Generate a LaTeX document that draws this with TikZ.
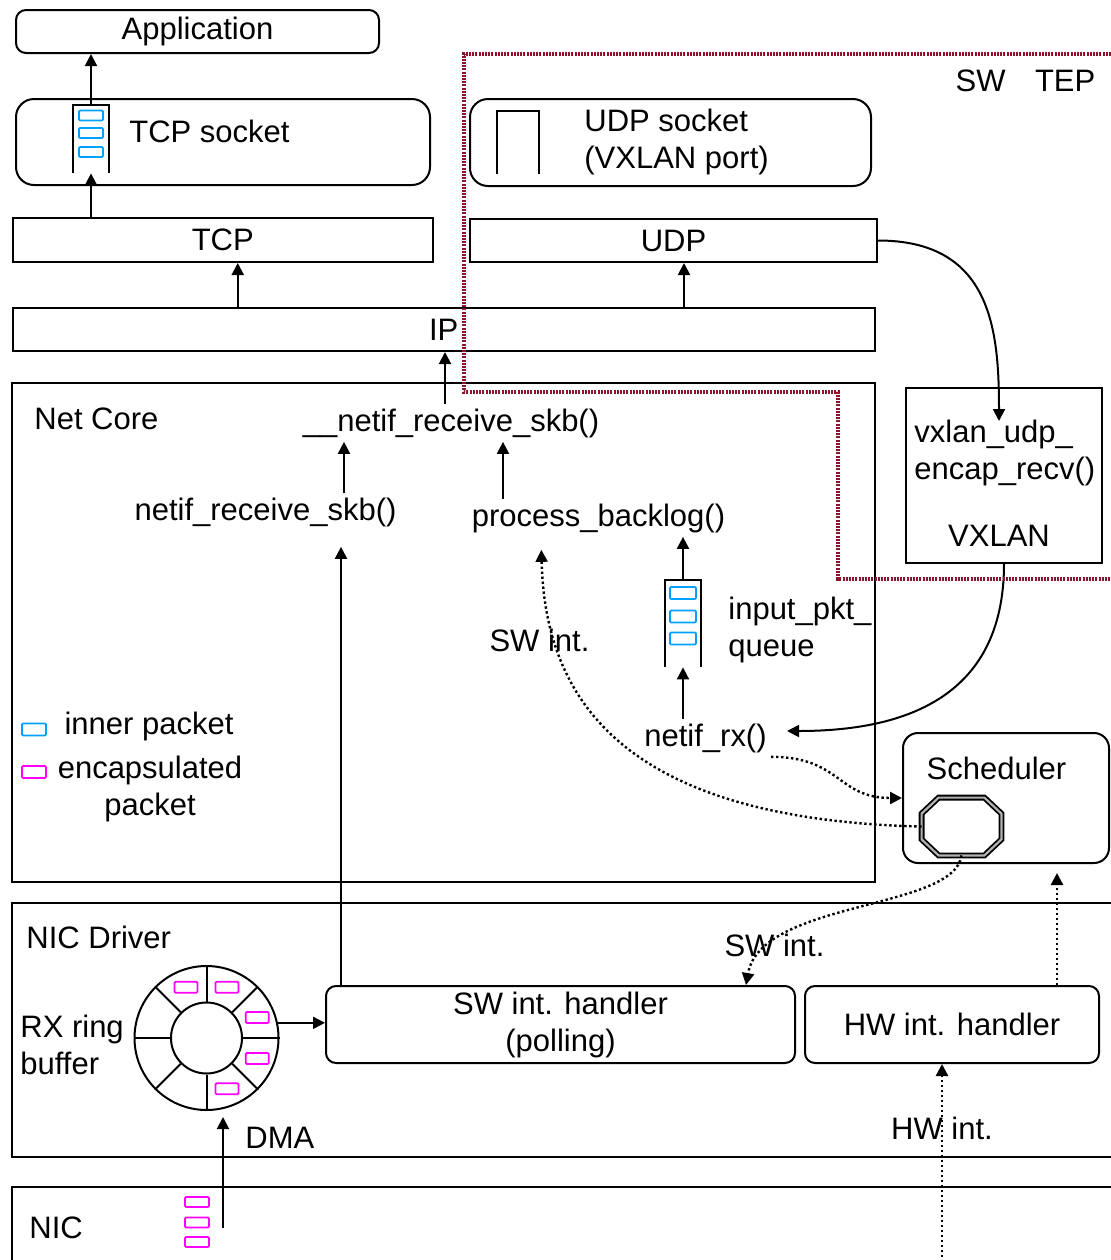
\documentclass[tikz,border=0pt]{standalone}
\usepackage{fontspec}
\setmainfont{Liberation Sans}
\usetikzlibrary{arrows.meta,calc}

\definecolor{tepred}{RGB}{140,20,45}
\definecolor{innerblue}{RGB}{0,160,255}
\definecolor{encmag}{RGB}{255,0,255}

\begin{document}
\begin{tikzpicture}[x=0.5pt, y=-0.5pt,
  every node/.style={font=\fontsize{15.5}{18.5}\selectfont, inner sep=2pt},
  box/.style={draw, line width=1pt, inner sep=0pt},
  rbox/.style={box, rounded corners=6pt},
  slot/.style={inner sep=0pt},
  arr/.style={line width=1pt, -{Triangle[length=6pt, width=6pt]}},
  darr/.style={arr, line width=1.2pt, dash pattern=on 1.2pt off 1.3pt},
  pktin/.style={draw=innerblue, line width=0.9pt, rounded corners=0.6pt,
    minimum width=12pt, minimum height=5pt, inner sep=0pt},
  pktenc/.style={pktin, draw=encmag},
  tep/.style={draw=tepred, line width=2pt, dash pattern=on 1pt off 0.6pt}]
  \useasboundingbox (0,0) rectangle (1111,1260);

  % Sockets and application
  \node[rbox, rounded corners=5pt, minimum width=181.5pt, minimum height=21.5pt] (app) at (197.5,31.5) {Application};
  \node[rbox, rounded corners=9pt, minimum width=207pt, minimum height=43pt] (tcpsock) at (223,142) {};
  \node (tcplbl) at (209.5,131) {TCP socket};
  \node[slot, minimum width=18pt, minimum height=34pt] (tcpq) at (91,139) {};
  \draw[line width=1pt] (tcpq.south west) -- (tcpq.north west) -- (tcpq.north east) -- (tcpq.south east);
  \foreach \y [count=\i] in {115.5,133,152}
    \node[pktin] (tcpp\i) at (91,\y) {};
  \node[rbox, rounded corners=9pt, minimum width=200.5pt, minimum height=43.5pt] (udpsock) at (670.5,142.5) {};
  \node[slot, minimum width=21pt, minimum height=31.5pt] (port) at (518,142.5) {};
  \draw[line width=1pt] (port.south west) -- (port.north west) -- (port.north east) -- (port.south east);
  \node[anchor=west, align=left] (udplbl) at (580,141.5) {UDP socket\\(VXLAN port)};

  % Protocol layers
  \node[box, minimum width=210.25pt, minimum height=22pt] (tcp) at (222.75,240) {TCP};
  \node[box, minimum width=203.5pt, minimum height=21.5pt] (udp) at (673.5,240.5) {UDP};
  \node[box, minimum width=431.25pt, minimum height=21.5pt] (ip) at (443.75,329.5) {IP};

  % Net Core
  \node[box, minimum width=431.5pt, minimum height=249.5pt] (netcore) at (443.5,632.5) {};
  \node[anchor=west] (netcorelbl) at (30,419) {Net Core};
  \node (nrs2) at (451,423) {\_\_netif\_receive\_skb()};
  \node (nrs) at (265.5,512) {netif\_receive\_skb()};
  \node (pb) at (598.5,518) {process\_backlog()};
  \node[slot, minimum width=18pt, minimum height=43.5pt] (inq) at (683,623.5) {};
  \draw[line width=1pt] (inq.south west) -- (inq.north west) -- (inq.north east) -- (inq.south east);
  \foreach \y [count=\i] in {593,616.5,638.5}
    \node[pktin, minimum width=13pt, minimum height=6pt] (inqp\i) at (683,\y) {};
  \node[anchor=west, align=left] (inqlbl) at (724,630) {input\_pkt\_\\queue};
  \node (swint) at (539.5,640) {SW int.};
  \node (nrx) at (705.5,738) {netif\_rx()};

  % Legend
  \node[pktin, minimum height=6pt] (leginner) at (34,729.5) {};
  \node (leginnerlbl) at (149,726) {inner packet};
  \node[pktenc, minimum height=6pt] (legenc) at (34,772) {};
  \node[align=center] (legenclbl) at (150,788.5) {encapsulated\\packet};

  % VXLAN and scheduler
  \node[box, minimum width=98pt, minimum height=87.5pt] (vxlan) at (1004,475.5) {};
  \node[anchor=west, align=left] (vxtxt) at (910,452.5) {vxlan\_udp\_\\encap\_recv()};
  \node (vxlbl) at (999,536) {VXLAN};
  \node[rbox, rounded corners=7.5pt, minimum width=103pt, minimum height=65pt] (sched) at (1006,798) {};
  \node (schedlbl) at (996.5,768) {Scheduler};
  \node[slot, minimum width=39.5pt, minimum height=28.5pt] (oct) at (961.5,826.5) {};
  \draw[line width=0.9pt, double=gray!60, double distance=1.1pt]
    ([xshift=8.5pt]oct.north west) -- ([xshift=-8.5pt]oct.north east) -- ([yshift=-8pt]oct.north east)
    -- ([yshift=8pt]oct.south east) -- ([xshift=-8.5pt]oct.south east) -- ([xshift=8.5pt]oct.south west)
    -- ([yshift=8pt]oct.south west) -- ([yshift=-8pt]oct.north west) -- cycle;

  % NIC Driver
  \draw[line width=1pt] (1111,903) -- (12,903) -- (12,1157) -- (1111,1157);
  \node[anchor=west] (drvlbl) at (22,937) {NIC Driver};
  \node[draw, circle, line width=1pt, minimum size=72pt, inner sep=0pt] (ring) at (206.5,1038) {};
  \node[draw, circle, line width=1pt, minimum size=35.5pt, inner sep=0pt] (hub) at (ring.center) {};
  \foreach \a in {0,45,...,315}
    \draw[line width=1pt] (hub.\a) -- (ring.\a);
  \foreach \a [count=\i] in {22,68,112,338,292}
    \node[pktenc, minimum width=11.5pt, minimum height=5.5pt] (ringp\i) at ($(hub.\a)!0.5!(ring.\a)$) {};
  \node[anchor=west, align=left] (ringlbl) at (16,1045) {RX ring\\buffer};
  \node[rbox, rounded corners=5pt, minimum width=234.5pt, minimum height=38.5pt, align=center] (swh) at (560.5,1024.5) {SW int. handler\\(polling)};
  \node[rbox, rounded corners=5pt, minimum width=147pt, minimum height=38.5pt] (hwh) at (952,1024.5) {HW int. handler};
  \node[anchor=west] (dmalbl) at (241,1138) {DMA};
  \node (swint2) at (774.5,945) {SW int.};
  \node (hwint) at (942,1128) {HW int.};

  % NIC
  \draw[line width=1pt] (1111,1187) -- (12,1187) -- (12,1262);
  \node[anchor=west] (niclbl) at (25,1228) {NIC};
  \foreach \y [count=\i] in {1202,1222.5,1242}
    \node[pktenc] (nicp\i) at (197,\y) {};
  \coordinate (dmasrc) at (223,1228);
  \coordinate (hwsrc) at (942,1262);

  % Solid connectors
  \draw[arr] (tcpq.north) -- (tcpq.north |- app.south);
  \draw[arr] (tcpq.south |- tcp.north) -- (tcpq.south);
  \draw[arr] ([xshift=7.5pt]tcp.south |- ip.north) -- ([xshift=7.5pt]tcp.south);
  \draw[arr] ([xshift=5.25pt]udp.south |- ip.north) -- ([xshift=5.25pt]udp.south);
  \draw[arr] ([xshift=-3pt]nrs2.north) -- ([xshift=-3pt]nrs2.north |- ip.south);
  \draw[arr] ([xshift=-53.5pt]nrs2.south |- nrs.north) -- ([xshift=-53.5pt]nrs2.south);
  \draw[arr] ([xshift=26pt]nrs2.south |- pb.north) -- ([xshift=26pt]nrs2.south);
  \draw[arr] (inq.north) -- (inq.north |- pb.south);
  \draw[arr] (inq.south |- nrx.north) -- (inq.south);
  \draw[arr, shorten >=8pt] ([xshift=8pt]swh.north west) -- ([xshift=8pt]swh.north west |- nrs.south);
  \draw[arr] (udp.east) .. controls +(113,0) and +(0,-92) .. ([shift={(-2.5pt,-17pt)}]vxlan.north);
  \draw[arr] (vxlan.south) .. controls +(0,137) and +(112,0) .. ([shift={(8pt,3.5pt)}]nrx.east);
  \draw[arr] (ring.12) -- (ring.12 -| swh.west);
  \draw[arr, shorten >=3pt] (dmasrc) -- (dmasrc |- ring.south);

  % Dotted connectors
  \draw[darr] (nrx.south east) .. controls +(70,0) and +(-65,0) .. (sched.west);
  \draw[darr, shorten >=6.5pt] (oct.west) .. controls +(-302,-7) and +(4,160) .. ([xshift=-28.75pt]pb.south);
  \draw[darr] (oct.south) .. controls +(-7,55) and +(15,-85) .. ([xshift=-25pt]swh.north east);
  \draw[darr, shorten >=4.5pt] ([xshift=-21.5pt]hwh.north east) -- ([xshift=-21.5pt]hwh.north east |- sched.south);
  \draw[darr] (hwsrc) -- (hwsrc |- hwh.south);

  % SW TEP boundary
  \draw[tep] (1111,53.5) -- (463.5,53.5) -- (463.5,392) -- (838,392) -- (838,579) -- (1111,579);
  \node (teplbl) at (1025.5,81) {SW\hspace{0.95em}TEP};
\end{tikzpicture}
\end{document}
